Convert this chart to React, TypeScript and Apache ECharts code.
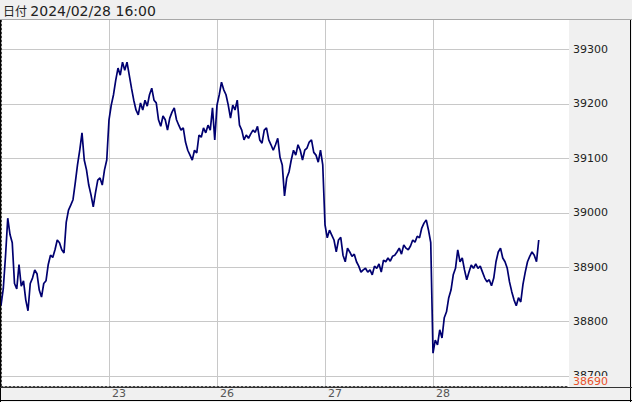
import React, { useEffect, useRef } from "react";
import * as echarts from "echarts";

// one slot = 30 minutes, 48 slots per trading day
const dayStarts = [48, 96, 144, 192];
const dayLabels = ["23", "26", "27", "28"];
const yTicks = [38700, 38800, 38900, 39000, 39100, 39200, 39300];
const minMark = 38690;
const titleLabel = "日付";
const titleTime = "2024/02/28 16:00";

const day22 = [
  38830, 38860, 38920, 38990, 38960, 38945, 38870, 38860, 38905, 38865,
  38875, 38840, 38820, 38870, 38880, 38895, 38888, 38858, 38845, 38870,
  38875, 38905, 38922, 38918, 38932, 38950, 38945, 38932, 38926, 38983,
  39005, 39014, 39024, 39055, 39088, 39115, 39147, 39097, 39079, 39051,
  39033, 39011, 39037, 39060, 39064, 39051, 39079, 39097,
];
const day23 = [
  39171, 39198, 39217, 39244, 39266, 39253, 39277, 39262, 39277, 39253,
  39229, 39207, 39189, 39180, 39202, 39189, 39207, 39196, 39217, 39229,
  39207, 39202, 39171, 39159, 39178, 39171, 39152, 39174, 39185, 39193,
  39171, 39161, 39152, 39156, 39130, 39115, 39106, 39097, 39115, 39110,
  39143, 39139, 39156, 39147, 39161, 39152, 39193, 39134,
];
const day26 = [
  39198, 39217, 39240, 39226, 39217, 39198, 39174, 39198, 39189, 39207,
  39161, 39152, 39134, 39143, 39137, 39145, 39152, 39148, 39159, 39134,
  39128, 39152, 39156, 39134, 39125, 39115, 39125, 39137, 39102, 39088,
  39031, 39064, 39075, 39097, 39115, 39106, 39125, 39115, 39097, 39115,
  39119, 39130, 39134, 39111, 39106, 39093, 39115, 39088,
];
const day27 = [
  38978, 38954, 38968, 38959, 38950, 38928, 38950, 38955, 38922, 38910,
  38935, 38928, 38920, 38924, 38910, 38902, 38891, 38895, 38898, 38891,
  38895, 38886, 38902, 38898, 38906, 38891, 38913, 38910, 38917, 38911,
  38920, 38922, 38928, 38935, 38924, 38941, 38935, 38932, 38939, 38950,
  38946, 38957, 38954, 38972, 38981, 38987, 38968, 38945,
];
const day28 = [
  38742, 38766, 38757, 38785, 38770, 38807, 38818, 38844, 38858, 38886,
  38898, 38932, 38910, 38917, 38895, 38877, 38891, 38904, 38898, 38906,
  38898, 38902, 38891, 38880, 38873, 38877, 38866, 38880, 38910, 38928,
  38935, 38917, 38910, 38898, 38873, 38855, 38840, 38829, 38844, 38836,
  38869, 38891, 38910, 38920, 38928, 38922, 38910, 38950,
];

const prices = [...day22, ...day23, ...day26, ...day27, ...day28];

export default function App() {
  const ref = useRef<HTMLDivElement>(null);
  useEffect(() => {
    document.body.style.margin = "0";
    if (!ref.current) return;
    const chart = echarts.init(ref.current, null, { renderer: "svg" });
    const W = 632;
    const H = 402;
    const option: any = {
      animation: false,
      backgroundColor: "#ffffff",
      grid: { left: 1, right: 63, top: 20, bottom: 16, containLabel: false },
      graphic: [
        { type: "rect", z: -10, shape: { x: 0, y: 0, width: W, height: 20 }, style: { fill: "#f0f0f0" } },
        { type: "rect", z: -10, shape: { x: 569, y: 20, width: W - 569, height: H - 20 }, style: { fill: "#f0f0f0" } },
        { type: "rect", z: -10, shape: { x: 0, y: 387, width: W, height: H - 387 }, style: { fill: "#f0f0f0" } },
        { type: "line", z: 50, shape: { x1: 0, y1: 19.5, x2: W, y2: 19.5 }, style: { stroke: "#a8a8a8", lineWidth: 1 } },
        { type: "line", z: 50, shape: { x1: 0.5, y1: 20, x2: 0.5, y2: H }, style: { stroke: "#000000", lineWidth: 1 } },
        { type: "line", z: 50, shape: { x1: 630.5, y1: 20, x2: 630.5, y2: H }, style: { stroke: "#000000", lineWidth: 1 } },
        { type: "line", z: 50, shape: { x1: 0, y1: 387.5, x2: W, y2: 387.5 }, style: { stroke: "#333333", lineWidth: 1 } },
        { type: "line", z: 50, shape: { x1: 0, y1: 400.5, x2: W, y2: 400.5 }, style: { stroke: "#000000", lineWidth: 1 } },
        {
          type: "text",
          z: 50,
          x: 3,
          y: 2,
          style: {
            text: "{a|" + titleLabel + "} {b|" + titleTime + "}",
            rich: {
              a: { fill: "#222222", fontSize: 12, fontFamily: "Noto Sans CJK JP", lineHeight: 17 },
              b: { fill: "#222222", fontSize: 14, fontFamily: "DejaVu Sans", lineHeight: 17 },
            },
          },
        },
      ],
      xAxis: {
        type: "value",
        min: 0,
        max: 568 / 2.25,
        interval: 48,
        axisLine: { show: true, lineStyle: { color: "#444444", type: [2, 2], width: 1 } },
        axisTick: { show: false, customValues: dayStarts },
        splitLine: { show: true, lineStyle: { color: "#c8c8c8", width: 1 } },
        axisLabel: {
          customValues: dayStarts,
          formatter: (v: number) => {
            const k = dayStarts.indexOf(Math.round(v));
            return k >= 0 ? dayLabels[k] : "";
          },
          align: "left",
          padding: [0, 0, 0, 3],
          margin: 2,
          color: "#555555",
          fontSize: 11,
          fontFamily: "DejaVu Sans",
        },
      },
      yAxis: {
        type: "value",
        position: "right",
        min: 38681.6,
        max: 39354.4,
        axisLine: { show: true, lineStyle: { color: "#444444", type: [2, 2], width: 1 } },
        axisTick: { show: false, customValues: yTicks },
        splitLine: { show: true, lineStyle: { color: "#c8c8c8", width: 1 } },
        axisLabel: {
          customValues: yTicks,
          formatter: (v: number) => String(v),
          margin: 4,
          color: "#222222",
          fontSize: 11,
          fontFamily: "DejaVu Sans",
        },
      },
      series: [
        {
          type: "line",
          data: prices.map((p, i) => [i, p]),
          showSymbol: false,
          symbol: "none",
          lineStyle: { color: "#000070", width: 1.7 },
          z: 5,
          markLine: {
            silent: true,
            symbol: "none",
            lineStyle: { color: "rgba(0,0,0,0)", width: 0, type: "solid" },
            data: [{ yAxis: minMark }],
            label: {
              show: true,
              position: "end",
              distance: 4,
              formatter: String(minMark),
              color: "#e8502a",
              backgroundColor: "#f0f0f0",
              opacity: 1,
              fontSize: 11,
              fontFamily: "DejaVu Sans",
            },
          },
        },
      ],
    };
    chart.setOption(option);
    return () => chart.dispose();
  }, []);
  return <div ref={ref} style={{ width: 632, height: 402 }} />;
}
